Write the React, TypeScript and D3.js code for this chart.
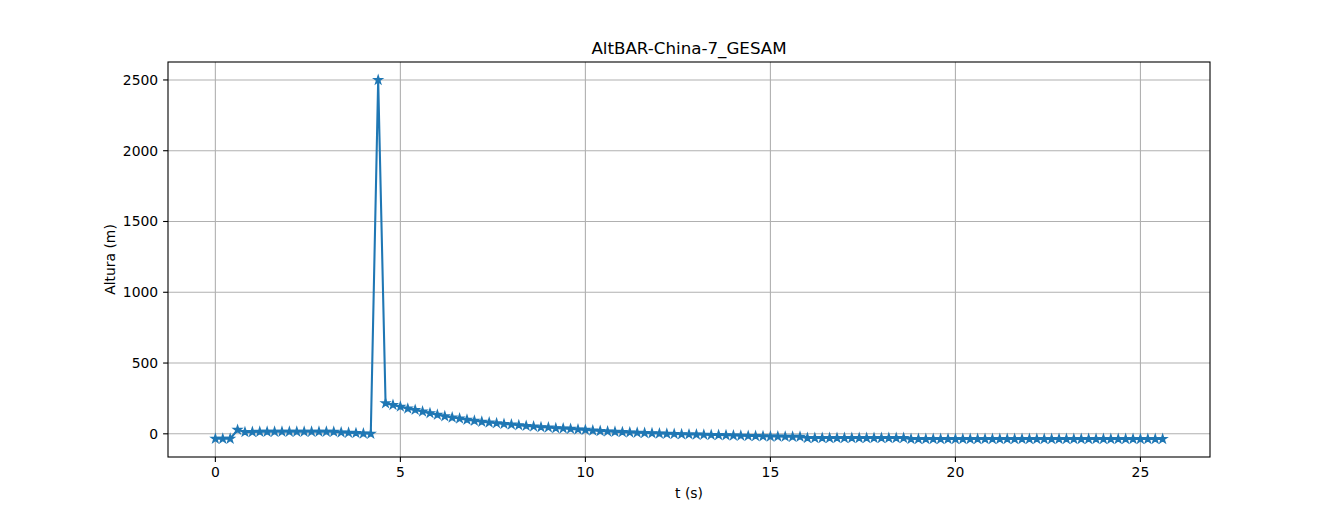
import React from 'react';
import * as d3 from 'd3';

// Sample interval of the barometer log (s)
const SAMPLE_DT = 0.2;

// Altitude readings (m), one every SAMPLE_DT
const altitude: number[] = [
  -35, -35, -35, 28,
  12, 13, 14, 14, 15, 15, 15, 15, 15, 15, 15, 15, 14, 10, 8, 5, 2, 0,
  2500,
  216, 204, 192, 178, 169, 157, 146, 134, 124, 115, 108, 99, 92, 85,
  80, 75, 70, 66, 61, 56, 52, 47, 45, 40, 38, 35, 31, 28,
  23, 20, 17, 14, 12, 10, 8, 6, 4, 2, 0, -1, -3, -4, -5, -6, -8, -9,
  -10, -12, -13, -15, -16, -17, -19,
  -19, -20, -21, -21,
  -30, -30, -30, -30, -30, -30, -30, -30, -30, -30, -30, -30, -30, -30,
  -37, -37, -37, -37, -37, -37, -37, -37, -37, -37, -37, -37, -37, -37, -37,
  -37, -37, -37, -37, -37, -37, -37, -37, -37, -37, -37, -37, -37, -37, -37,
  -37, -37, -37, -37, -37,
];

const xTicks = [0, 5, 10, 15, 20, 25];
const yTicks = [0, 500, 1000, 1500, 2000, 2500];

const title = 'AltBAR-China-7_GESAM';
const xLabel = 't (s)';
const yLabel = 'Altura (m)';

const W = 1344;
const H = 514;
const margin = { top: 62, right: 134, bottom: 57, left: 168 };
const FONT = '"DejaVu Sans", sans-serif';
const BLUE = '#1f77b4';

export default function App() {
  const data = altitude.map((v, i) => ({ t: i * SAMPLE_DT, v }));

  // matplotlib-style 5% auto margins
  const [tMin, tMax] = d3.extent(data, d => d.t) as [number, number];
  const [vMin, vMax] = d3.extent(data, d => d.v) as [number, number];
  const tPad = (tMax - tMin) * 0.05;
  const vPad = (vMax - vMin) * 0.05;

  const x = d3.scaleLinear()
    .domain([tMin - tPad, tMax + tPad])
    .range([margin.left, W - margin.right]);
  const y = d3.scaleLinear()
    .domain([vMin - vPad, vMax + vPad])
    .range([H - margin.bottom, margin.top]);

  const line = d3.line<{ t: number; v: number }>()
    .x(d => x(d.t))
    .y(d => y(d.v));

  const star = d3.symbol(d3.symbolStar, 20)();

  const x0 = margin.left;
  const x1 = W - margin.right;
  const y0 = H - margin.bottom;
  const y1 = margin.top;
  const tick = 4.9;

  return (
    <svg width={W} height={H} style={{ position: 'absolute', left: 0, top: 0, background: '#fff' }}
      fontFamily={FONT}>
      <rect x={0} y={0} width={W} height={H} fill="#fff" />

      {/* grid */}
      <g stroke="#b0b0b0" strokeWidth={1.1}>
        {xTicks.map(t => (
          <line key={'gx' + t} x1={x(t)} x2={x(t)} y1={y0} y2={y1} />
        ))}
        {yTicks.map(t => (
          <line key={'gy' + t} x1={x0} x2={x1} y1={y(t)} y2={y(t)} />
        ))}
      </g>

      {/* series */}
      <path d={line(data) ?? ''} fill="none" stroke={BLUE} strokeWidth={2.08} strokeLinejoin="round" strokeLinecap="square" />
      <g fill={BLUE} stroke={BLUE} strokeWidth={1.39}>
        {data.map((d, i) => (
          <path key={i} d={star ?? ''} transform={`translate(${x(d.t)},${y(d.v)})`} />
        ))}
      </g>

      {/* spines */}
      <rect x={x0} y={y1} width={x1 - x0} height={y0 - y1} fill="none" stroke="#000" strokeWidth={1.1} />

      {/* x axis */}
      <g fontSize={13.9} fill="#000">
        {xTicks.map(t => (
          <g key={'tx' + t}>
            <line x1={x(t)} x2={x(t)} y1={y0} y2={y0 + tick} stroke="#000" strokeWidth={1.1} />
            <text x={x(t)} y={y0 + 2 * tick + 10.5} textAnchor="middle">{t}</text>
          </g>
        ))}
        {yTicks.map(t => (
          <g key={'ty' + t}>
            <line x1={x0} x2={x0 - tick} y1={y(t)} y2={y(t)} stroke="#000" strokeWidth={1.1} />
            <text x={x0 - 2 * tick} y={y(t)} dy="0.35em" textAnchor="end">{t}</text>
          </g>
        ))}
      </g>

      <text x={(x0 + x1) / 2} y={498} textAnchor="middle" fontSize={13.9}>{xLabel}</text>
      <text transform={`translate(115,${(y0 + y1) / 2}) rotate(-90)`} textAnchor="middle" fontSize={13.9}>{yLabel}</text>
      <text x={(x0 + x1) / 2} y={54} textAnchor="middle" fontSize={16.7}>{title}</text>
    </svg>
  );
}
